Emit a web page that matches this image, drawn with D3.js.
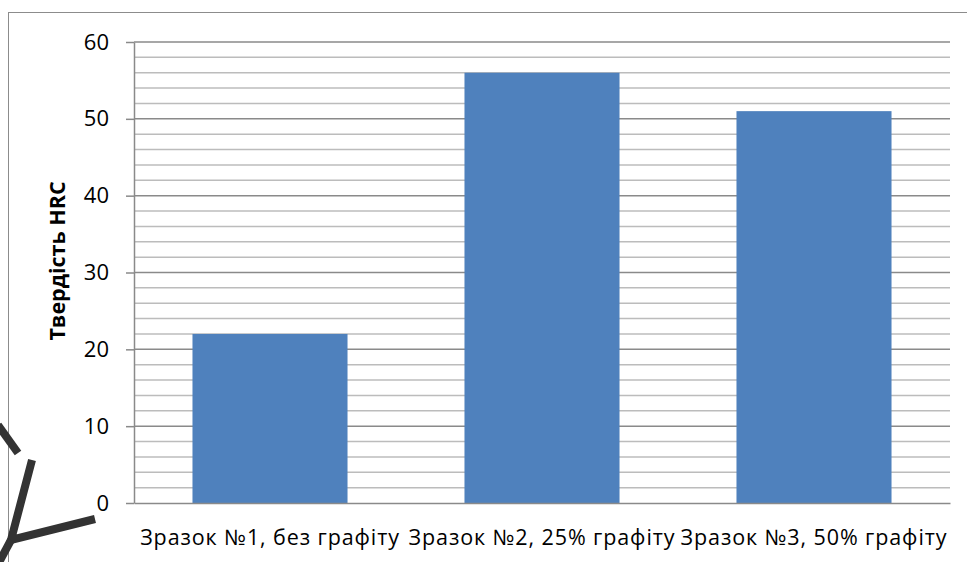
<!DOCTYPE html>
<html>
<head>
<meta charset="utf-8">
<script src="https://cdn.jsdelivr.net/npm/d3@7"></script>
<style>
  html, body { margin: 0; padding: 0; background: #fff; }
  svg { display: block; }
</style>
</head>
<body>
<svg id="chart" width="967" height="562"></svg>
<script>
// Hardness of three samples with different graphite content
const categories = ["Зразок №1, без графіту", "Зразок №2, 25% графіту", "Зразок №3, 50% графіту"];
const hardness = [22, 56, 51];
const yMajorTicks = [0, 10, 20, 30, 40, 50, 60];
const yMinorTicks = [2, 4, 6, 8, 12, 14, 16, 18, 22, 24, 26, 28, 32, 34, 36, 38, 42, 44, 46, 48, 52, 54, 56, 58];
const yTitle = "Твердість HRC";

const W = 967, H = 562;
const plot = { left: 134, right: 950, top: 42, bottom: 503 };
const font = "'Open Sans', Lato, sans-serif";

const svg = d3.select("#chart");

// outer chart frame (partly clipped by the page)
svg.append("rect")
  .attr("x", 8.5).attr("y", 12.5)
  .attr("width", W + 20).attr("height", H + 20)
  .attr("fill", "none").attr("stroke", "#8c8c8c").attr("stroke-width", 1);

const x = d3.scaleBand()
  .domain(categories)
  .range([plot.left, plot.right])
  .paddingInner(0.43).paddingOuter(0.215);

const y = d3.scaleLinear().domain([0, 60]).range([plot.bottom, plot.top]);

// minor gridlines
svg.append("g")
  .selectAll("line")
  .data(yMinorTicks)
  .join("line")
  .attr("x1", plot.left).attr("x2", plot.right)
  .attr("y1", d => y(d)).attr("y2", d => y(d))
  .attr("stroke", "#bcbcbc").attr("stroke-width", 1.5);

// major gridlines
svg.append("g")
  .selectAll("line")
  .data(yMajorTicks.filter(d => d > 0))
  .join("line")
  .attr("x1", plot.left).attr("x2", plot.right)
  .attr("y1", d => y(d)).attr("y2", d => y(d))
  .attr("stroke", "#8a8a8a").attr("stroke-width", 1.5);

// bars
svg.append("g")
  .selectAll("rect")
  .data(categories.map((c, i) => ({ c, v: hardness[i] })))
  .join("rect")
  .attr("x", d => x(d.c))
  .attr("width", x.bandwidth())
  .attr("y", d => y(d.v))
  .attr("height", d => y(0) - y(d.v))
  .attr("fill", "#4f81bd");

// y axis
const yAxis = svg.append("g")
  .attr("transform", `translate(${plot.left},0)`)
  .call(d3.axisLeft(y).tickValues(yMajorTicks).tickSize(8).tickPadding(17).tickSizeOuter(0));
yAxis.select(".domain").attr("stroke", "#8a8a8a").attr("stroke-width", 1.5);
yAxis.selectAll(".tick line").attr("stroke", "#8a8a8a").attr("stroke-width", 1.5);
yAxis.selectAll(".tick text")
  .attr("font-family", font).attr("font-size", 22).attr("fill", "#000");

// x axis baseline and labels
const xAxis = svg.append("g")
  .attr("transform", `translate(0,${plot.bottom})`)
  .call(d3.axisBottom(x).tickSize(0).tickPadding(27).tickSizeOuter(0));
xAxis.select(".domain").attr("stroke", "#8a8a8a").attr("stroke-width", 1.5);
xAxis.selectAll(".tick text")
  .attr("font-family", font).attr("font-size", 21.5)
  .attr("letter-spacing", 0.9).attr("fill", "#000");

// y axis title
svg.append("text")
  .attr("transform", `translate(65,261) rotate(-90)`)
  .attr("text-anchor", "middle")
  .attr("font-family", font).attr("font-weight", "bold").attr("font-size", 21.5)
  .text(yTitle);

// dark stroke fragments at the lower left corner
svg.append("g")
  .attr("fill", "none").attr("stroke", "#333").attr("stroke-width", 8)
  .selectAll("path")
  .data([
    "M-2,425 L18,453",
    "M32,460 L11,540 L95,519",
    "M11,540 L-4,568"
  ])
  .join("path")
  .attr("d", d => d);
</script>
</body>
</html>
